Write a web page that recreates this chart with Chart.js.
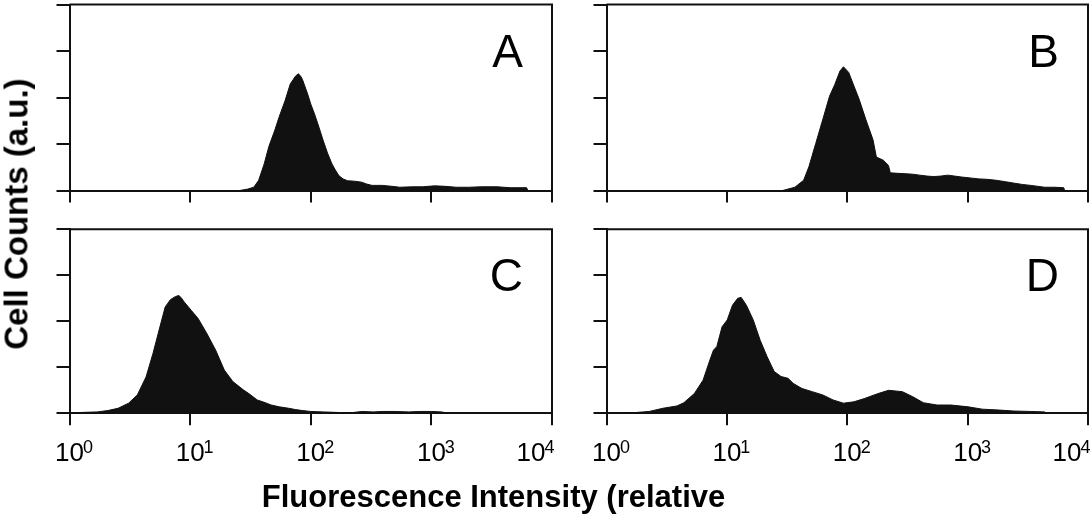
<!DOCTYPE html>
<html>
<head>
<meta charset="utf-8">
<script src="https://cdn.jsdelivr.net/npm/chart.js"></script>
<style>
  body { margin: 0; background: #fff; }
  #figure { position: relative; width: 1090px; height: 516px; overflow: hidden; background: #fff; }
  #figure canvas { position: absolute; left: 0; top: 0; }
  .axis-title { position: absolute; font-family: "Liberation Sans", Arial, sans-serif; font-weight: bold; color: #000; white-space: nowrap; }
  #yTitle { left: 15.6px; top: 214px; font-size: 33px; line-height: 33px; transform: translate(-50%, -50%) rotate(-90deg); }
  #xTitle { left: 0; top: 480.7px; width: 987px; text-align: center; font-size: 31px; line-height: 31px; }
</style>
</head>
<body>
<div id="figure">
  <canvas id="panelA" width="1090" height="516"></canvas>
  <canvas id="panelB" width="1090" height="516"></canvas>
  <canvas id="panelC" width="1090" height="516"></canvas>
  <canvas id="panelD" width="1090" height="516"></canvas>
  <div id="yTitle" class="axis-title">Cell Counts (a.u.)</div>
  <div id="xTitle" class="axis-title">Fluorescence Intensity (relative</div>
</div>
<script>
// axis ticks: labels are 10 raised to the exponent
const xTickValues = [1, 10, 100, 1000, 10000];
const xTickBase = ['10', '10', '10', '10', '10'];
const xTickExponents = ['0', '1', '2', '3', '4'];
const yTickValues = [0, 1, 2, 3, 4];

// histogram outlines (intensity, counts in a.u.)
const aIntensity = [20, 25.8, 30, 33.7, 37, 41.1, 45, 50.1, 55, 61.2, 67.6, 74.8, 78.9, 82, 85.3, 94.4, 100, 107.7, 117, 127, 138, 150, 160, 171, 185, 202, 230, 264, 290, 322, 393, 470, 547, 700, 850, 1062, 1300, 1600, 2065, 2600, 3508, 4500, 6166, 6300];
const aCounts = [0, 0, 0.03, 0.07, 0.22, 0.57, 0.95, 1.28, 1.6, 1.93, 2.29, 2.46, 2.51, 2.47, 2.39, 2.07, 1.86, 1.64, 1.36, 1.07, 0.8, 0.57, 0.44, 0.32, 0.25, 0.21, 0.2, 0.18, 0.14, 0.11, 0.11, 0.09, 0.07, 0.08, 0.08, 0.1, 0.09, 0.07, 0.07, 0.08, 0.08, 0.06, 0.06, 0];

const bIntensity = [25, 29.1, 36.7, 43.4, 48, 54.7, 62.5, 71.3, 78.8, 87, 93, 102.8, 113.6, 125.6, 143, 163.7, 174.6, 199.5, 220, 227.7, 260, 307, 350, 400, 460, 522, 600, 681, 780, 889, 1050, 1239, 1450, 1726, 2050, 2404, 2850, 3350, 4366, 5300, 6290, 6400];
const bCounts = [0, 0, 0.07, 0.22, 0.51, 1.01, 1.52, 2.03, 2.28, 2.57, 2.66, 2.54, 2.25, 1.96, 1.52, 1.09, 0.72, 0.65, 0.54, 0.38, 0.37, 0.36, 0.35, 0.33, 0.31, 0.30, 0.31, 0.33, 0.31, 0.29, 0.27, 0.25, 0.24, 0.22, 0.19, 0.16, 0.13, 0.11, 0.07, 0.07, 0.06, 0];

const cIntensity = [1, 1.3, 1.7, 2.08, 2.53, 3.09, 3.65, 4.31, 4.92, 5.62, 6.21, 6.86, 7.57, 8.09, 8.5, 8.93, 10.2, 11.65, 13.8, 16.3, 19.2, 22.6, 27.6, 31, 36, 41, 47, 55, 65.5, 75, 85.3, 100, 127, 160, 202, 230, 264, 330, 393, 500, 650, 800, 1000, 1213, 1387];
const cCounts = [0.01, 0.02, 0.03, 0.06, 0.11, 0.22, 0.40, 0.79, 1.30, 1.88, 2.31, 2.47, 2.54, 2.56, 2.50, 2.42, 2.24, 2.06, 1.73, 1.37, 0.94, 0.69, 0.51, 0.42, 0.29, 0.24, 0.18, 0.14, 0.11, 0.08, 0.06, 0.04, 0.03, 0.02, 0.01, 0.02, 0.04, 0.03, 0.04, 0.04, 0.03, 0.04, 0.04, 0.03, 0];

const dIntensity = [1.3, 1.62, 2.26, 2.95, 3.85, 4.39, 5.37, 6.34, 7.23, 7.73, 8.25, 9.12, 10.07, 11.13, 12.3, 13.15, 14.52, 16.56, 18.9, 21.6, 24.7, 28.2, 32.2, 35.6, 42, 51.2, 62.5, 76.2, 93, 113.6, 138.7, 180.7, 220.4, 287, 350.5, 428.5, 558, 728, 1014, 1322, 1841, 2400, 3350, 4366, 4517];
const dCounts = [0, 0.01, 0.04, 0.11, 0.16, 0.23, 0.43, 0.72, 1.16, 1.37, 1.45, 1.88, 2.03, 2.35, 2.50, 2.52, 2.35, 2.03, 1.59, 1.23, 0.91, 0.80, 0.76, 0.65, 0.54, 0.47, 0.40, 0.29, 0.22, 0.25, 0.32, 0.43, 0.50, 0.47, 0.36, 0.23, 0.18, 0.18, 0.14, 0.09, 0.07, 0.05, 0.04, 0.03, 0];

const INK = '#111';
const FONT = '"Liberation Sans", Arial, Helvetica, sans-serif';

// top and right edges of the box
const framePlugin = {
    id: 'frame',
    afterDatasetsDraw(chart) {
        const {ctx, chartArea} = chart;
        ctx.save();
        ctx.strokeStyle = INK;
        ctx.lineWidth = 2;
        ctx.beginPath();
        ctx.moveTo(chartArea.left, chartArea.top);
        ctx.lineTo(chartArea.right, chartArea.top);
        ctx.lineTo(chartArea.right, chartArea.bottom);
        ctx.stroke();
        ctx.restore();
    }
};

const letterPlugin = {
    id: 'panelLetter',
    afterDraw(chart, args, opts) {
        const {ctx, chartArea} = chart;
        ctx.save();
        ctx.font = '46px ' + FONT;
        ctx.fillStyle = '#000';
        ctx.textAlign = 'right';
        ctx.textBaseline = 'alphabetic';
        ctx.fillText(opts.text, chartArea.right - 29, chartArea.top + 62);
        ctx.restore();
    }
};

// the 10^4 label sits left of its tick, as in the original figure
const lastLabelPlugin = {
    id: 'lastLabelShift',
    beforeDraw(chart, args, opts) {
        const scale = chart.scales.x;
        if (!scale.options.ticks.display) return;
        const items = scale.getLabelItems();
        const last = items[items.length - 1];
        if (last) last.options.translation[0] += opts.dx;
    }
};

// raised exponent next to each "10" tick label
const exponentPlugin = {
    id: 'tickExponent',
    afterDraw(chart) {
        const scale = chart.scales.x;
        if (!scale.options.ticks.display) return;
        const ctx = chart.ctx;
        const items = scale.getLabelItems();
        ctx.save();
        ctx.fillStyle = '#000';
        items.forEach((item, i) => {
            const [x, y] = item.options.translation;
            ctx.font = item.font.string;
            ctx.textBaseline = item.options.textBaseline;
            const m = ctx.measureText(item.label);
            const inkTop = y + (item.textOffset || 0) - m.actualBoundingBoxAscent;
            ctx.font = '18px ' + FONT;
            ctx.textAlign = 'left';
            const e = ctx.measureText(xTickExponents[i]);
            ctx.fillText(xTickExponents[i], x + m.width / 2 - 1, inkTop - 3 + e.actualBoundingBoxAscent);
        });
        ctx.restore();
    }
};

function drawPanel(id, box, intensity, counts, letter, showLabels) {
    const points = intensity.map((x, i) => ({x: x, y: counts[i]}));
    new Chart(document.getElementById(id), {
        type: 'line',
        data: {
            datasets: [{
                data: points,
                borderColor: INK,
                borderWidth: 1,
                backgroundColor: INK,
                fill: 'origin',
                pointRadius: 0,
                tension: 0
            }]
        },
        options: {
            responsive: false,
            animation: false,
            events: [],
            layout: {
                autoPadding: false,
                padding: {left: box.left - 20, top: box.top, right: 1090 - box.right, bottom: 516 - box.bottom - 60}
            },
            scales: {
                x: {
                    type: 'logarithmic',
                    min: 1,
                    max: 10000,
                    afterBuildTicks: s => { s.ticks = xTickValues.map(v => ({value: v})); },
                    afterFit: s => { s.height = 60; s.paddingLeft = 0; s.paddingRight = 0; },
                    grid: {drawOnChartArea: false, color: INK, lineWidth: 2, tickLength: 12},
                    border: {display: true, color: INK, width: 2},
                    ticks: {
                        display: showLabels,
                        callback: (v, i) => xTickBase[i],
                        color: '#000',
                        font: {family: FONT, size: 26},
                        padding: 13,
                        maxRotation: 0,
                        autoSkip: false
                    }
                },
                y: {
                    min: 0,
                    max: 4,
                    afterBuildTicks: s => { s.ticks = yTickValues.map(v => ({value: v})); },
                    afterFit: s => { s.width = 20; s.paddingTop = 0; s.paddingBottom = 0; },
                    grid: {drawOnChartArea: false, color: INK, lineWidth: 2, tickLength: 13},
                    border: {display: true, color: INK, width: 2},
                    ticks: {display: false}
                }
            },
            plugins: {
                legend: {display: false},
                tooltip: {enabled: false},
                panelLetter: {text: letter},
                lastLabelShift: {dx: -21}
            }
        },
        plugins: [framePlugin, letterPlugin, lastLabelPlugin, exponentPlugin]
    });
}

drawPanel('panelA', {left: 69.5, top: 4.5, right: 552, bottom: 190.5}, aIntensity, aCounts, 'A', false);
drawPanel('panelB', {left: 606.5, top: 4.5, right: 1088, bottom: 190.5}, bIntensity, bCounts, 'B', false);
drawPanel('panelC', {left: 69.5, top: 229.3, right: 552, bottom: 413.3}, cIntensity, cCounts, 'C', true);
drawPanel('panelD', {left: 606.5, top: 229.3, right: 1088, bottom: 413.3}, dIntensity, dCounts, 'D', true);
</script>
</body>
</html>
